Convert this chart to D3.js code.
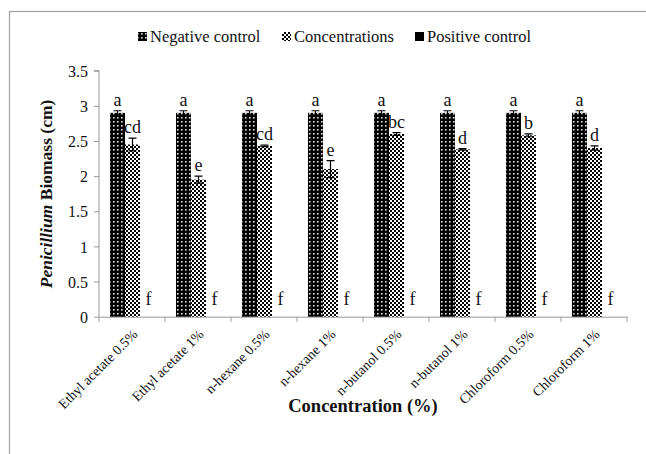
<!DOCTYPE html>
<html><head><meta charset="utf-8">
<script src="https://cdn.jsdelivr.net/npm/d3@7"></script>
<style>body{margin:0;background:#fff}svg{display:block}</style>
</head><body><svg id="c" width="646" height="454"></svg>
<script>
const categories = ["Ethyl acetate 0.5%","Ethyl acetate 1%","n-hexane 0.5%","n-hexane 1%","n-butanol 0.5%","n-butanol 1%","Chloroform 0.5%","Chloroform 1%"];
const seriesNames = ["Negative control","Concentrations","Positive control"];
const negative = [2.9,2.9,2.9,2.9,2.9,2.9,2.9,2.9];
const negativeErr = [0.03,0.03,0.03,0.03,0.03,0.03,0.03,0.03];
const concentrations = [2.45,1.95,2.43,2.10,2.60,2.38,2.58,2.40];
const concentrationsErr = [0.09,0.05,0.01,0.12,0.02,0.01,0.02,0.03];
const positive = [0,0,0,0,0,0,0,0];
const positiveErr = [0,0,0,0,0,0,0,0];
const negLetters = ["a","a","a","a","a","a","a","a"];
const concLetters = ["cd","e","cd","e","bc","d","b","d"];
const posLetters = ["f","f","f","f","f","f","f","f"];
const yTicks = [0,0.5,1,1.5,2,2.5,3,3.5];

const FONT = "'Liberation Serif'";
const svg = d3.select("#c");
const defs = svg.append("defs");
const p1 = defs.append("pattern").attr("id","pNeg").attr("width",4).attr("height",4).attr("patternUnits","userSpaceOnUse");
p1.append("rect").attr("width",4).attr("height",4).attr("fill","#000");
p1.append("rect").attr("x",1).attr("y",1).attr("width",1.6).attr("height",1.6).attr("fill","#ddd");
const p2 = defs.append("pattern").attr("id","pConc").attr("width",4).attr("height",4).attr("patternUnits","userSpaceOnUse");
p2.append("rect").attr("width",4).attr("height",4).attr("fill","#fff");
p2.append("rect").attr("x",0).attr("y",0).attr("width",2).attr("height",2).attr("fill","#000");
p2.append("rect").attr("x",2).attr("y",2).attr("width",2).attr("height",2).attr("fill","#000");
const fills = ["url(#pNeg)","url(#pConc)","#000"];

svg.append("rect").attr("x",9.5).attr("y",11.5).attr("width",700).attr("height",500).attr("fill","none").attr("stroke","#a0a0a0").attr("stroke-width",1.2);

const x0 = d3.scaleBand().domain(categories).range([99,627]).paddingInner(0).paddingOuter(0);
const x1 = d3.scaleBand().domain(seriesNames).range([11,56]);
const y = d3.scaleLinear().domain([0,3.5]).range([316.7,70.7]);

const yAxis = svg.append("g").attr("transform","translate(99,0)")
  .call(d3.axisLeft(y).tickValues(yTicks).tickFormat(d=>d).tickSize(5).tickSizeOuter(0));
yAxis.select(".domain").attr("stroke","#999").attr("d","M0,"+y(0)+"V"+y(3.5)+"H-5");
yAxis.selectAll(".tick line").attr("stroke","#999");
yAxis.selectAll(".tick text").attr("font-size","16px").attr("fill","#111").attr("x",-11).attr("dy","0.35em").style("font-family",FONT);

const xAxis = svg.append("g").attr("transform","translate(0,"+y(0)+")")
  .call(d3.axisBottom(x0).tickSize(0).tickFormat(""));
xAxis.select(".domain").attr("stroke","#999");
const bounds = categories.map(c=>x0(c)).concat([x0.range()[1]]);
xAxis.selectAll(".btick").data(bounds).enter().append("line").attr("class","btick")
  .attr("x1",d=>d).attr("x2",d=>d).attr("y1",0).attr("y2",5).attr("stroke","#999");
xAxis.selectAll(".tick").remove();

svg.append("g").selectAll("text").data(categories).enter().append("text")
  .attr("transform",d=>"translate("+(x0(d)+x0.bandwidth()/2+3)+","+(y(0)+15)+") rotate(-45)")
  .attr("text-anchor","end").attr("dy","0.35em").attr("font-size","14px").attr("fill","#111").style("font-family",FONT).text(d=>d);

const series = [negative,concentrations,positive];
const errs = [negativeErr,concentrationsErr,positiveErr];
const letters = [negLetters,concLetters,posLetters];
const g = svg.append("g");
categories.forEach((c,i)=>{
  seriesNames.forEach((s,j)=>{
    const v = series[j][i];
    const bx = x0(c)+x1(s), bw = x1.bandwidth();
    g.append("rect").attr("x",bx).attr("y",y(v)).attr("width",bw).attr("height",y(0)-y(v)).attr("fill",fills[j]);
    const e = errs[j][i];
    if (v>0){
      const cx = bx+bw/2;
      g.append("path").attr("d",`M${cx-4},${y(v+e)}H${cx+4}M${cx},${y(v+e)}V${y(v-e)}M${cx-4},${y(v-e)}H${cx+4}`)
        .attr("stroke","#000").attr("stroke-width",1.2).attr("fill","none");
      g.append("text").attr("x",cx).attr("y",y(v+e)-5).attr("text-anchor","middle").attr("font-size","18px").attr("fill","#111").style("font-family",FONT).text(letters[j][i]);
    } else {
      g.append("text").attr("x",bx+bw/2+1).attr("y",y(0)-12).attr("text-anchor","middle").attr("font-size","18px").attr("fill","#111").style("font-family",FONT).text(letters[j][i]);
    }
  });
});

const legX = [138,282,415];
const leg = svg.append("g");
seriesNames.forEach((s,j)=>{
  leg.append("rect").attr("x",legX[j]).attr("y",32).attr("width",9).attr("height",9).attr("fill",fills[j]);
  leg.append("text").attr("x",legX[j]+12).attr("y",41.5).attr("font-size","16.5px").attr("fill","#111").style("font-family",FONT).text(s);
});

svg.append("text").attr("x",363).attr("y",412).attr("text-anchor","middle").attr("font-size","18.5px").attr("font-weight","bold").attr("fill","#111").style("font-family",FONT).text("Concentration (%)");
const yt = svg.append("text").attr("transform","translate(52,194) rotate(-90)").attr("text-anchor","middle").attr("font-size","17.5px").attr("font-weight","bold").attr("fill","#111").style("font-family",FONT);
yt.append("tspan").attr("font-style","italic").text("Penicillium");
yt.append("tspan").text(" Biomass (cm)");
</script></body></html>
